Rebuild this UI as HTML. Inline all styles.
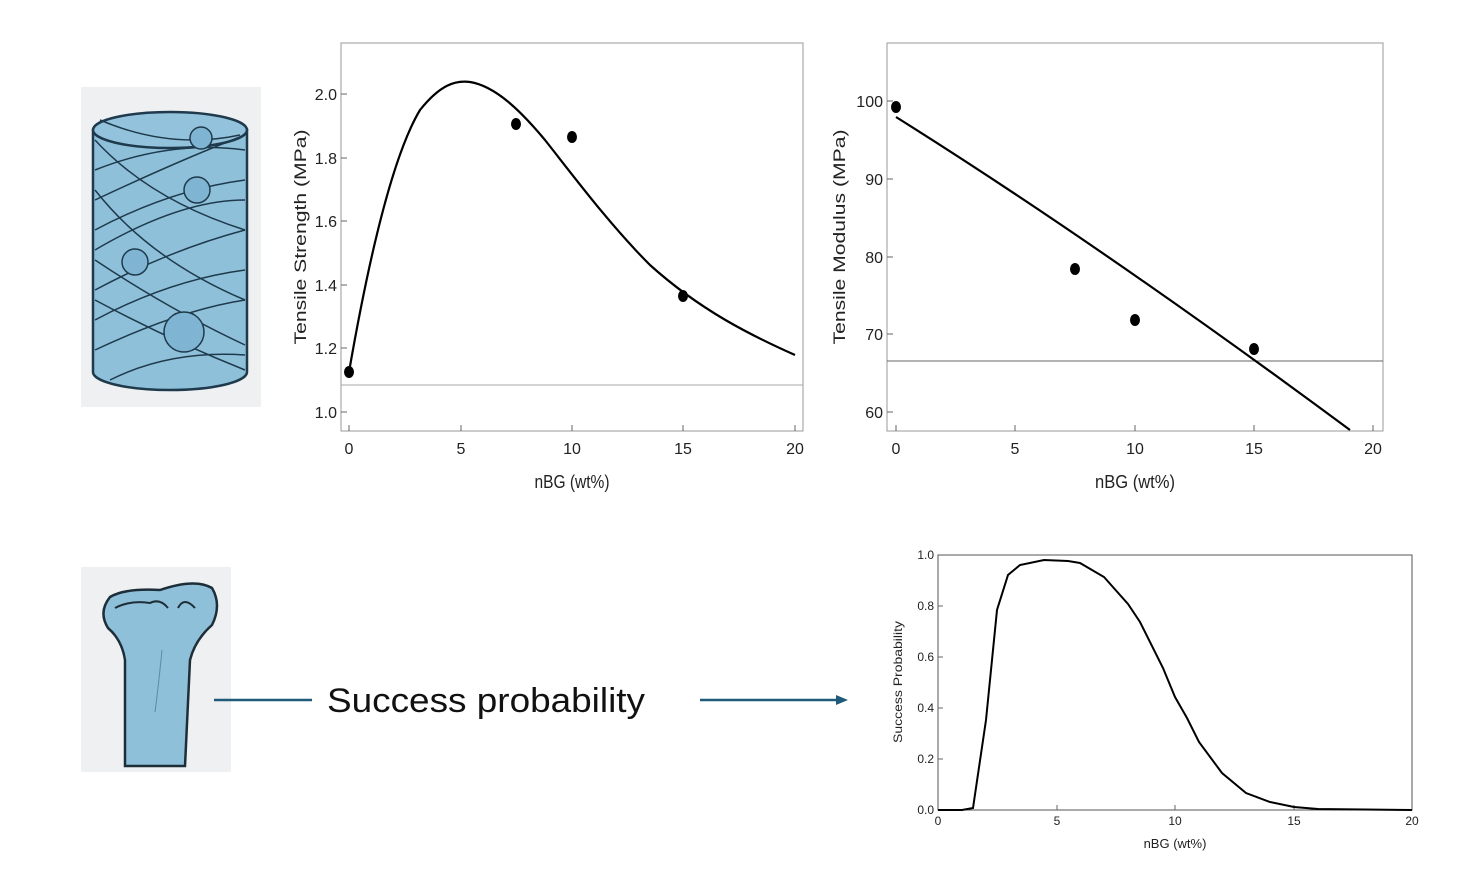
<!DOCTYPE html>
<html><head><meta charset="utf-8"><style>
html,body{margin:0;padding:0;background:#fff;}
svg{display:block;font-family:"Liberation Sans",Arial,sans-serif;}
</style></head><body>
<svg width="1462" height="888" viewBox="0 0 1462 888" xmlns="http://www.w3.org/2000/svg">
<!-- Scaffold illustration -->
<rect x="81" y="87" width="180" height="320" fill="#eef0f1"/>
<g stroke="#1e3a4c" stroke-width="2.5" fill="#8fc0da">
<path d="M93 130 L93 372 A77 18 0 0 0 247 372 L247 130 Z"/>
<ellipse cx="170" cy="130" rx="77" ry="18" fill="#93c3dc"/>
</g>
<g stroke="#1e3a4c" stroke-width="1.5" fill="none">
<path d="M95 170 Q170 140 245 150"/><path d="M95 200 Q180 160 245 135"/><path d="M95 230 Q170 190 245 180"/>
<path d="M95 250 Q180 200 245 200"/><path d="M95 290 Q170 250 245 230"/><path d="M95 320 Q170 280 245 270"/>
<path d="M95 350 Q180 310 245 300"/><path d="M95 140 Q150 200 245 230"/><path d="M95 190 Q150 260 245 300"/>
<path d="M95 260 Q170 310 245 345"/><path d="M95 300 Q170 340 245 370"/><path d="M110 380 Q170 350 245 355"/>
<path d="M100 120 Q170 150 240 135"/>
</g>
<g stroke="#1e3a4c" stroke-width="1.5" fill="#7fb5d2">
<circle cx="201" cy="138" r="11"/><circle cx="197" cy="190" r="13"/><circle cx="135" cy="262" r="13"/><circle cx="184" cy="332" r="20"/>
</g>
<!-- Bone illustration -->
<rect x="81" y="567" width="150" height="205" fill="#eef0f1"/>
<path d="M125 766 L125 660 Q122 640 108 628 Q98 612 110 597 Q125 588 160 590 Q195 578 212 588 Q222 605 212 625 Q195 640 190 660 L185 766 Z" fill="#8fc0da" stroke="#1e2e38" stroke-width="2.5"/>
<path d="M115 608 Q130 600 150 603 Q160 598 168 608 M178 608 Q184 596 195 608" fill="none" stroke="#1e2e38" stroke-width="2"/>
<path d="M162 650 Q158 690 155 712" fill="none" stroke="#5a8aa6" stroke-width="1"/>
<!-- arrows & text -->
<line x1="214" y1="700" x2="312" y2="700" stroke="#1f5a7a" stroke-width="2.5"/>
<text x="327" y="712" font-size="34" fill="#111" textLength="318" lengthAdjust="spacingAndGlyphs">Success probability</text>
<line x1="700" y1="700" x2="838" y2="700" stroke="#1f5a7a" stroke-width="2.5"/>
<polygon points="848,700 836,695 836,705" fill="#1f5a7a"/>

<!-- Chart 1 -->
<rect x="341" y="43" width="462" height="388" fill="none" stroke="#999" stroke-width="1"/>
<line x1="341" y1="385" x2="803" y2="385" stroke="#aaa" stroke-width="1"/>
<g stroke="#666" stroke-width="1">
<line x1="349" y1="431" x2="349" y2="425"/><line x1="461" y1="431" x2="461" y2="425"/><line x1="572" y1="431" x2="572" y2="425"/><line x1="683" y1="431" x2="683" y2="425"/><line x1="795" y1="431" x2="795" y2="425"/>
<line x1="341" y1="94" x2="347" y2="94"/><line x1="341" y1="158" x2="347" y2="158"/><line x1="341" y1="221" x2="347" y2="221"/><line x1="341" y1="285" x2="347" y2="285"/><line x1="341" y1="348" x2="347" y2="348"/><line x1="341" y1="412" x2="347" y2="412"/>
</g>
<g font-size="16" fill="#222" text-anchor="middle">
<text x="349" y="454">0</text><text x="461" y="454">5</text><text x="572" y="454">10</text><text x="683" y="454">15</text><text x="795" y="454">20</text>
</g>
<g font-size="16" fill="#222" text-anchor="end">
<text x="337" y="100">2.0</text><text x="337" y="164">1.8</text><text x="337" y="227">1.6</text><text x="337" y="291">1.4</text><text x="337" y="354">1.2</text><text x="337" y="418">1.0</text>
</g>
<text x="572" y="488" font-size="18" text-anchor="middle" fill="#222" textLength="75" lengthAdjust="spacingAndGlyphs">nBG (wt%)</text>
<text transform="translate(306,237) rotate(-90)" font-size="17" text-anchor="middle" fill="#222" textLength="215" lengthAdjust="spacingAndGlyphs">Tensile Strength (MPa)</text>
<path d="M349 372 C365 280 390 160 420 110 C440 85 455 80 470 82 C495 86 520 110 545 140 C575 178 610 225 650 265 C700 310 750 335 795 355" fill="none" stroke="#000" stroke-width="2.2"/>
<g fill="#000"><ellipse cx="349" cy="372" rx="5" ry="6"/><ellipse cx="516" cy="124" rx="5" ry="6"/><ellipse cx="572" cy="137" rx="5" ry="6"/><ellipse cx="683" cy="296" rx="5" ry="6"/></g>

<!-- Chart 2 -->
<rect x="887" y="43" width="496" height="388" fill="none" stroke="#999" stroke-width="1"/>
<line x1="887" y1="361" x2="1383" y2="361" stroke="#666" stroke-width="1"/>
<g stroke="#666" stroke-width="1">
<line x1="896" y1="431" x2="896" y2="425"/><line x1="1015" y1="431" x2="1015" y2="425"/><line x1="1135" y1="431" x2="1135" y2="425"/><line x1="1254" y1="431" x2="1254" y2="425"/><line x1="1373" y1="431" x2="1373" y2="425"/>
<line x1="887" y1="101" x2="893" y2="101"/><line x1="887" y1="179" x2="893" y2="179"/><line x1="887" y1="257" x2="893" y2="257"/><line x1="887" y1="334" x2="893" y2="334"/><line x1="887" y1="412" x2="893" y2="412"/>
</g>
<g font-size="16" fill="#222" text-anchor="middle">
<text x="896" y="454">0</text><text x="1015" y="454">5</text><text x="1135" y="454">10</text><text x="1254" y="454">15</text><text x="1373" y="454">20</text>
</g>
<g font-size="16" fill="#222" text-anchor="end">
<text x="883" y="107">100</text><text x="883" y="185">90</text><text x="883" y="263">80</text><text x="883" y="340">70</text><text x="883" y="418">60</text>
</g>
<text x="1135" y="488" font-size="18" text-anchor="middle" fill="#222" textLength="80" lengthAdjust="spacingAndGlyphs">nBG (wt%)</text>
<text transform="translate(845,237) rotate(-90)" font-size="17" text-anchor="middle" fill="#222" textLength="215" lengthAdjust="spacingAndGlyphs">Tensile Modulus (MPa)</text>
<path d="M896 117 Q1100 245 1350 430" fill="none" stroke="#000" stroke-width="2.2"/>
<g fill="#000"><ellipse cx="896" cy="107" rx="5" ry="6"/><ellipse cx="1075" cy="269" rx="5" ry="6"/><ellipse cx="1135" cy="320" rx="5" ry="6"/><ellipse cx="1254" cy="349" rx="5" ry="6"/></g>

<!-- Chart 3 -->
<rect x="938" y="555" width="474" height="255" fill="none" stroke="#555" stroke-width="1"/>
<g stroke="#666" stroke-width="1">
<line x1="1057" y1="810" x2="1057" y2="805"/><line x1="1175" y1="810" x2="1175" y2="805"/><line x1="1294" y1="810" x2="1294" y2="805"/>
<line x1="938" y1="606" x2="943" y2="606"/><line x1="938" y1="657" x2="943" y2="657"/><line x1="938" y1="708" x2="943" y2="708"/><line x1="938" y1="759" x2="943" y2="759"/>
</g>
<g font-size="12" fill="#222" text-anchor="middle">
<text x="938" y="825">0</text><text x="1057" y="825">5</text><text x="1175" y="825">10</text><text x="1294" y="825">15</text><text x="1412" y="825">20</text>
</g>
<g font-size="12" fill="#222" text-anchor="end">
<text x="934" y="559">1.0</text><text x="934" y="610">0.8</text><text x="934" y="661">0.6</text><text x="934" y="712">0.4</text><text x="934" y="763">0.2</text><text x="934" y="814">0.0</text>
</g>
<text x="1175" y="848" font-size="13" text-anchor="middle" fill="#222">nBG (wt%)</text>
<text transform="translate(902,682) rotate(-90)" font-size="12" text-anchor="middle" fill="#222" textLength="122" lengthAdjust="spacingAndGlyphs">Success Probability</text>
<polyline fill="none" stroke="#000" stroke-width="2" points="938,810 962,810 973,808 986,720 997,610 1008,575 1020,565 1044,560 1068,561 1080,563 1104,577 1128,604 1140,622 1163,668 1175,697 1187,718 1199,742 1222,773 1246,793 1270,802 1294,807 1318,809 1412,810"/>
</svg>
</body></html>
